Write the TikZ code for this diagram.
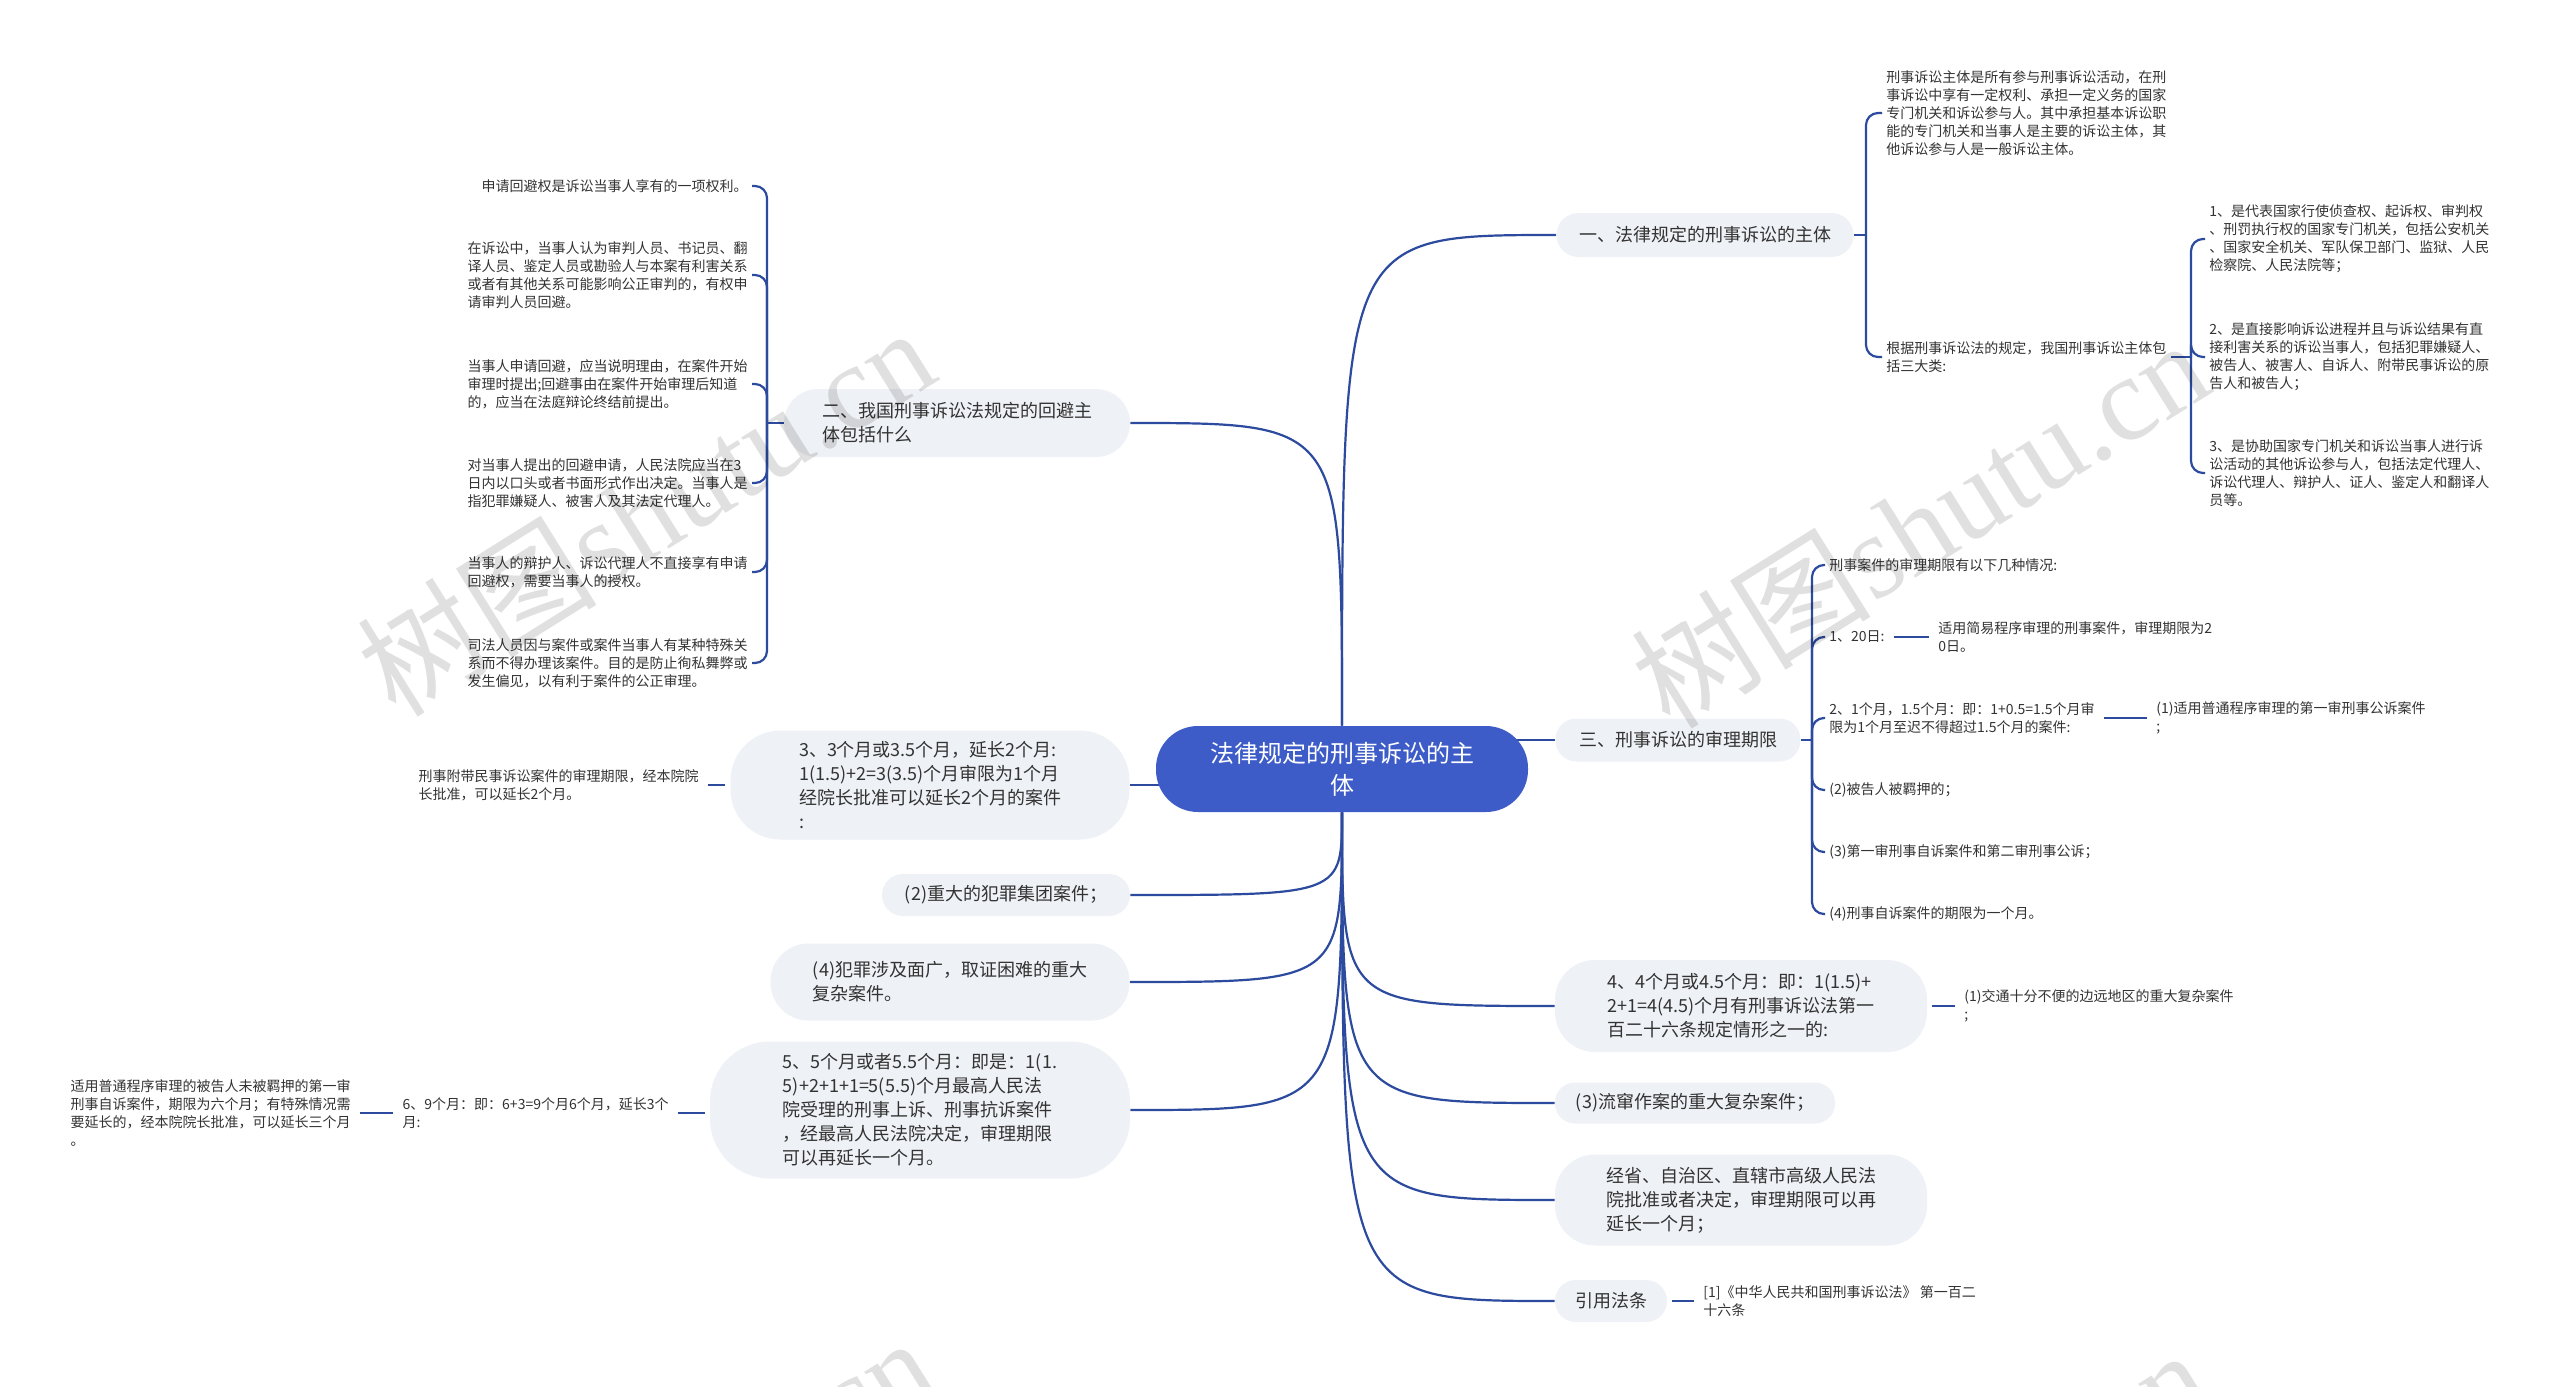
\documentclass[tikz,border=0pt]{standalone}
\usepackage{fontspec}
\setmainfont{Noto Sans CJK SC}
\newfontfamily\wmlatin{Liberation Serif}
\usetikzlibrary{backgrounds,calc}
\definecolor{linec}{HTML}{2C4A9E}
\definecolor{bubc}{HTML}{EEF1F5}
\definecolor{cenc}{HTML}{3D5CC8}
\definecolor{txtc}{HTML}{333333}
\begin{document}
\begin{tikzpicture}[x=0.5pt,y=-0.5pt,
  conn/.style={draw=linec, line width=1.1pt},
  bub/.style n args={3}{fill=bubc, text=txtc, font=\fontsize{9}{12}\selectfont, align=left, inner sep=0pt, minimum width=#1pt, minimum height=#2pt, rounded corners=#3pt},
  leafr/.style={text=txtc, font=\fontsize{7}{9}\selectfont, align=left, inner sep=2pt, anchor=west},
  leafl/.style={text=txtc, font=\fontsize{7}{9}\selectfont, align=left, inner sep=2pt, anchor=east},
  bkt/.style={conn, rounded corners=6pt},
  short/.style={conn, shorten <=2.5pt, shorten >=2.5pt},
  wm/.style={text=black, text opacity=0.12, font=\fontsize{60}{60}\selectfont, rotate=32, inner sep=0pt}
]
\useasboundingbox (0,0) rectangle (2560,1387);

% centre
\node[fill=cenc, text=white, font=\fontsize{12}{16}\selectfont, align=center, minimum width=186pt, minimum height=43pt, rounded corners=21pt, inner sep=0pt] (c) at (1342,769) {法律规定的刑事诉讼的主\\体};

% right branches
\node[bub={148.5}{22}{11}] (r1) at (1705,235) {一、法律规定的刑事诉讼的主体};
\node[bub={122.5}{21.5}{10.5}] (r2) at (1678,740) {三、刑事诉讼的审理期限};
\node[bub={186}{46}{20}] (r3) at (1741,1006) {4、4个月或4.5个月：即：1(1.5)+\\2+1=4(4.5)个月有刑事诉讼法第一\\百二十六条规定情形之一的:};
\node[bub={140}{20.5}{10}] (r4) at (1695,1103) {(3)流窜作案的重大复杂案件；};
\node[bub={186}{45.5}{20}] (r5) at (1741,1200) {经省、自治区、直辖市高级人民法\\院批准或者决定，审理期限可以再\\延长一个月；};
\node[bub={56}{21}{10.5}] (r6) at (1611,1301) {引用法条};

% left branches
\node[bub={173}{34}{17}] (l1) at (957,423) {二、我国刑事诉讼法规定的回避主\\体包括什么};
\node[bub={199.5}{54.5}{25}] (l2) at (930,785) {3、3个月或3.5个月，延长2个月:\\1(1.5)+2=3(3.5)个月审限为1个月\\经院长批准可以延长2个月的案件\\:};
\node[bub={124}{21}{10.5}] (l3) at (1006,895) {(2)重大的犯罪集团案件；};
\node[bub={179.5}{38.5}{19}] (l4) at (950,982) {(4)犯罪涉及面广，取证困难的重大\\复杂案件。};
\node[bub={210}{68.5}{30}] (l5) at (920,1110) {5、5个月或者5.5个月：即是：1(1.\\5)+2+1+1=5(5.5)个月最高人民法\\院受理的刑事上诉、刑事抗诉案件\\，经最高人民法院决定，审理期限\\可以再延长一个月。};

% right leaves
\node[leafr] (la) at (1882,113) {刑事诉讼主体是所有参与刑事诉讼活动，在刑\\事诉讼中享有一定权利、承担一定义务的国家\\专门机关和诉讼参与人。其中承担基本诉讼职\\能的专门机关和当事人是主要的诉讼主体，其\\他诉讼参与人是一般诉讼主体。};
\node[leafr] (lb) at (1882,357) {根据刑事诉讼法的规定，我国刑事诉讼主体包\\括三大类:};
\node[leafr] (c1) at (2205,239) {1、是代表国家行使侦查权、起诉权、审判权\\、刑罚执行权的国家专门机关，包括公安机关\\、国家安全机关、军队保卫部门、监狱、人民\\检察院、人民法院等；};
\node[leafr] (c2) at (2205,357) {2、是直接影响诉讼进程并且与诉讼结果有直\\接利害关系的诉讼当事人，包括犯罪嫌疑人、\\被告人、被害人、自诉人、附带民事诉讼的原\\告人和被告人；};
\node[leafr] (c3) at (2205,473) {3、是协助国家专门机关和诉讼当事人进行诉\\讼活动的其他诉讼参与人，包括法定代理人、\\诉讼代理人、辩护人、证人、鉴定人和翻译人\\员等。};
\node[leafr] (d1) at (1825,565) {刑事案件的审理期限有以下几种情况:};
\node[leafr] (d2) at (1825,637) {1、20日:};
\node[leafr] (d2a) at (1934,637) {适用简易程序审理的刑事案件，审理期限为2\\0日。};
\node[leafr] (d3) at (1825,718) {2、1个月，1.5个月：即：1+0.5=1.5个月审\\限为1个月至迟不得超过1.5个月的案件:};
\node[leafr] (d3a) at (2152,718) {(1)适用普通程序审理的第一审刑事公诉案件\\;};
\node[leafr] (d4) at (1825,790) {(2)被告人被羁押的；};
\node[leafr] (d5) at (1825,852) {(3)第一审刑事自诉案件和第二审刑事公诉；};
\node[leafr] (d6) at (1825,914) {(4)刑事自诉案件的期限为一个月。};
\node[leafr] (r3a) at (1960,1006) {(1)交通十分不便的边远地区的重大复杂案件\\;};
\node[leafr] (r6a) at (1699,1301) {[1]《中华人民共和国刑事诉讼法》 第一百二\\十六条};

% left leaves
\node[leafl] (e1) at (752,186) {申请回避权是诉讼当事人享有的一项权利。};
\node[leafl] (e2) at (752,275) {在诉讼中，当事人认为审判人员、书记员、翻\\译人员、鉴定人员或勘验人与本案有利害关系\\或者有其他关系可能影响公正审判的，有权申\\请审判人员回避。};
\node[leafl] (e3) at (752,384) {当事人申请回避，应当说明理由，在案件开始\\审理时提出;回避事由在案件开始审理后知道\\的，应当在法庭辩论终结前提出。};
\node[leafl] (e4) at (752,483) {对当事人提出的回避申请，人民法院应当在3\\日内以口头或者书面形式作出决定。当事人是\\指犯罪嫌疑人、被害人及其法定代理人。};
\node[leafl] (e5) at (752,572) {当事人的辩护人、诉讼代理人不直接享有申请\\回避权，需要当事人的授权。};
\node[leafl] (e6) at (752,663) {司法人员因与案件或案件当事人有某种特殊关\\系而不得办理该案件。目的是防止徇私舞弊或\\发生偏见，以有利于案件的公正审理。};
\node[leafl] (l2a) at (703,785) {刑事附带民事诉讼案件的审理期限，经本院院\\长批准，可以延长2个月。};
\node[leafl] (l5a) at (673,1113) {6、9个月：即：6+3=9个月6个月，延长3个\\月:};
\node[leafl] (l5b) at (355,1113) {适用普通程序审理的被告人未被羁押的第一审\\刑事自诉案件，期限为六个月；有特殊情况需\\要延长的，经本院院长批准，可以延长三个月\\。};

% junctions
\coordinate (jr1) at (1866,235);
\coordinate (jb) at (2191,357);
\coordinate (jr2) at (1812,740);
\coordinate (jl1) at (767,423);

\begin{pgfonlayer}{background}
\fill[white] (0,0) rectangle (2560,1387);
% from centre
\draw[conn] (c.north) .. controls (c.north |- r1.west) .. (r1.west);
\draw[conn] (c.north) .. controls (c.north |- l1.east) .. (l1.east);
\draw[conn] (c.center |- r2.west) -- (r2.west);
\draw[conn] (l2.east) -- (l2.east -| c.center);
\foreach \n in {r3,r4,r5,r6} \draw[conn] (c.south) .. controls (c.south |- \n.west) .. (\n.west);
\foreach \n in {l3,l4,l5} \draw[conn] (c.south) .. controls (c.south |- \n.east) .. (\n.east);
% brackets
\draw[conn] (r1.east) -- (jr1);
\foreach \n in {la,lb} \draw[bkt] (jr1) |- (\n.west);
\draw[conn] (lb.east) -- (jb);
\foreach \n in {c1,c2,c3} \draw[bkt] (jb) |- (\n.west);
\draw[conn] (r2.east) -- (jr2);
\foreach \n in {d1,d2,d3,d4,d5,d6} \draw[bkt] (jr2) |- (\n.west);
\draw[conn] (l1.west) -- (jl1);
\foreach \n in {e1,e2,e3,e4,e5,e6} \draw[bkt] (jl1) |- (\n.east);
% short links
\draw[short] (d2.east) -- (d2a.west);
\draw[short] (d3.east) -- (d3a.west);
\draw[short] (r3.east) -- (r3a.west);
\draw[short] (r6.east) -- (r6a.west);
\draw[short] (l2a.east) -- (l2.west);
\draw[short] (l5a.east) -- (l5a.east -| l5.west);
\draw[short] (l5b.east) -- (l5a.west);
\end{pgfonlayer}

% watermarks
\begin{scope}
\clip (0,0) rectangle (2560,1387);
\node[wm] (w1) at (645,510) {树图{\wmlatin shutu.cn}};
\node[wm] (w2) at (1919,522) {树图{\wmlatin shutu.cn}};
\node[wm] (w3) at (645,1520) {树图{\wmlatin shutu.cn}};
\node[wm] (w4) at (1919,1532) {树图{\wmlatin shutu.cn}};
\end{scope}
\end{tikzpicture}
\end{document}
